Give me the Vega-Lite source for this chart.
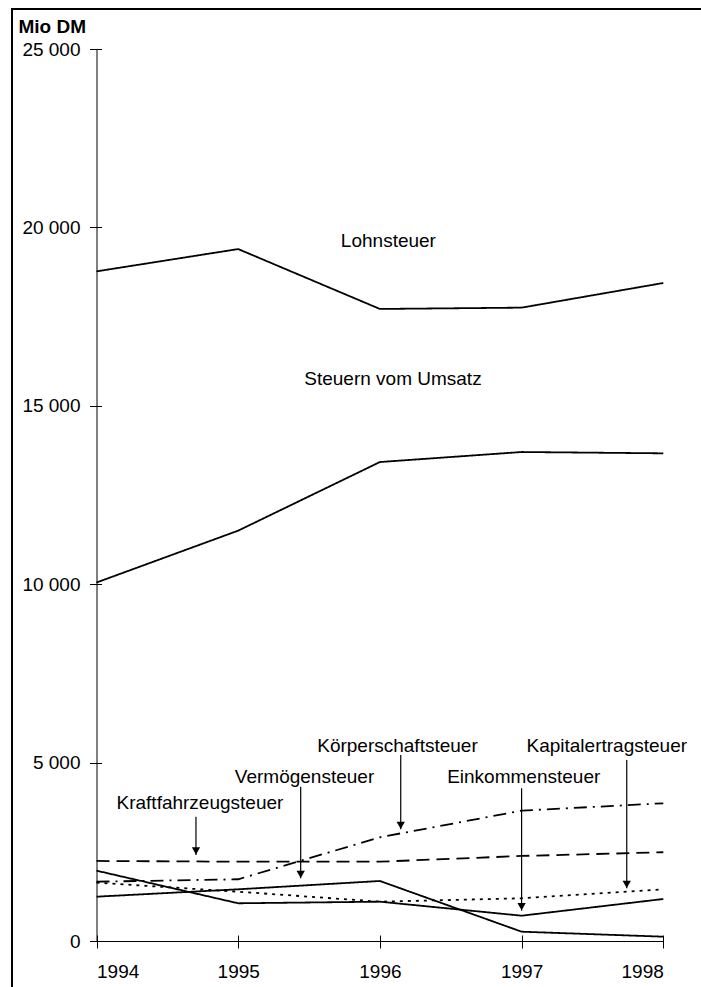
{
  "$schema": "https://vega.github.io/schema/vega-lite/v6.json",
  "width": 700,
  "height": 990,
  "autosize": {"type": "none"},
  "padding": {"left": 12, "top": 9, "right": 0, "bottom": 0},
  "background": "white",
  "config": {
    "view": {"stroke": "black", "strokeWidth": 2},
    "font": "Liberation Sans",
    "axis": {
      "grid": false,
      "domainColor": "black",
      "domainWidth": 1,
      "tickColor": "black",
      "tickWidth": 1,
      "labelColor": "black",
      "labelFont": "Liberation Sans",
      "labelFontSize": 19,
      "titleColor": "black",
      "titleFont": "Liberation Sans"
    }
  },
  "datasets": {
    "series": [
      {"year": 1994, "series": "Lohnsteuer", "value": 18768},
      {"year": 1995, "series": "Lohnsteuer", "value": 19393},
      {"year": 1996, "series": "Lohnsteuer", "value": 17714},
      {"year": 1997, "series": "Lohnsteuer", "value": 17751},
      {"year": 1998, "series": "Lohnsteuer", "value": 18442},
      {"year": 1994, "series": "Steuern vom Umsatz", "value": 10047},
      {"year": 1995, "series": "Steuern vom Umsatz", "value": 11501},
      {"year": 1996, "series": "Steuern vom Umsatz", "value": 13424},
      {"year": 1997, "series": "Steuern vom Umsatz", "value": 13705},
      {"year": 1998, "series": "Steuern vom Umsatz", "value": 13668},
      {"year": 1994, "series": "Kraftfahrzeugsteuer", "value": 2243},
      {"year": 1995, "series": "Kraftfahrzeugsteuer", "value": 2223},
      {"year": 1996, "series": "Kraftfahrzeugsteuer", "value": 2223},
      {"year": 1997, "series": "Kraftfahrzeugsteuer", "value": 2383},
      {"year": 1998, "series": "Kraftfahrzeugsteuer", "value": 2487},
      {"year": 1994, "series": "Körperschaftsteuer", "value": 1662},
      {"year": 1995, "series": "Körperschaftsteuer", "value": 1730},
      {"year": 1996, "series": "Körperschaftsteuer", "value": 2907},
      {"year": 1997, "series": "Körperschaftsteuer", "value": 3653},
      {"year": 1998, "series": "Körperschaftsteuer", "value": 3860},
      {"year": 1994, "series": "Kapitalertragsteuer", "value": 1634},
      {"year": 1995, "series": "Kapitalertragsteuer", "value": 1382},
      {"year": 1996, "series": "Kapitalertragsteuer", "value": 1102},
      {"year": 1997, "series": "Kapitalertragsteuer", "value": 1197},
      {"year": 1998, "series": "Kapitalertragsteuer", "value": 1449},
      {"year": 1994, "series": "Einkommensteuer", "value": 1971},
      {"year": 1995, "series": "Einkommensteuer", "value": 1057},
      {"year": 1996, "series": "Einkommensteuer", "value": 1102},
      {"year": 1997, "series": "Einkommensteuer", "value": 709},
      {"year": 1998, "series": "Einkommensteuer", "value": 1177},
      {"year": 1994, "series": "Vermögensteuer", "value": 1242},
      {"year": 1995, "series": "Vermögensteuer", "value": 1449},
      {"year": 1996, "series": "Vermögensteuer", "value": 1682},
      {"year": 1997, "series": "Vermögensteuer", "value": 261},
      {"year": 1998, "series": "Vermögensteuer", "value": 121}
    ],
    "arrows": [
      {"label": "Kraftfahrzeugsteuer", "x": 1994.702, "top": 3485, "tip": 2411},
      {"label": "Vermögensteuer", "x": 1995.441, "top": 4326, "tip": 1758},
      {"label": "Körperschaftsteuer", "x": 1996.147, "top": 5214, "tip": 3131},
      {"label": "Einkommensteuer", "x": 1997.0, "top": 4281, "tip": 849},
      {"label": "Kapitalertragsteuer", "x": 1997.742, "top": 5074, "tip": 1477}
    ],
    "labels": [
      {"label": "Lohnsteuer", "x": 1996.06, "y": 19456},
      {"label": "Steuern vom Umsatz", "x": 1996.092, "y": 15587},
      {"label": "Kraftfahrzeugsteuer", "x": 1994.73, "y": 3700},
      {"label": "Vermögensteuer", "x": 1995.468, "y": 4438},
      {"label": "Körperschaftsteuer", "x": 1996.124, "y": 5307},
      {"label": "Einkommensteuer", "x": 1997.015, "y": 4438},
      {"label": "Kapitalertragsteuer", "x": 1997.601, "y": 5307}
    ]
  },
  "layer": [
    {
      "data": {"name": "series"},
      "mark": {"type": "line", "color": "black", "strokeWidth": 1.8},
      "encoding": {
        "x": {
          "field": "year", "type": "quantitative",
          "scale": {"domain": [1994, 1998], "range": [84.5, 651.3], "nice": false, "zero": false},
          "axis": {"orient": "bottom", "offset": -58, "values": [1994, 1995, 1996, 1997, 1998], "format": "d", "tickSize": 7, "labelPadding": 29, "labelBaseline": "alphabetic", "title": null}
        },
        "y": {
          "field": "value", "type": "quantitative",
          "scale": {"domain": [0, 25000], "range": [932, 40], "nice": false},
          "axis": {
            "orient": "left", "offset": -84.5,
            "values": [0, 5000, 10000, 15000, 20000, 25000],
            "labelExpr": "replace(format(datum.value, ','), ',', ' ')",
            "tickSize": 7, "labelPadding": 9.5, "labelBaseline": "middle",
            "title": "Mio DM", "titleAngle": 0, "titleAlign": "left", "titleBaseline": "alphabetic",
            "titleX": -78.5, "titleY": 23, "titleFontSize": 19, "titleFontWeight": "bold"
          }
        },
        "detail": {"field": "series", "type": "nominal"},
        "strokeDash": {
          "field": "series", "type": "nominal",
          "scale": {
            "domain": ["Lohnsteuer", "Steuern vom Umsatz", "Kraftfahrzeugsteuer", "Körperschaftsteuer", "Kapitalertragsteuer", "Einkommensteuer", "Vermögensteuer"],
            "range": [[1, 0], [1, 0], [13, 7], [13, 6, 2, 6], [3, 5], [1, 0], [1, 0]]
          },
          "legend": null
        }
      }
    },
    {
      "data": {"name": "arrows"},
      "mark": {"type": "rule", "color": "black", "strokeWidth": 1.2},
      "encoding": {
        "x": {"field": "x", "type": "quantitative",
          "axis": {"orient": "bottom", "offset": -58, "values": [1994, 1995, 1996, 1997, 1998], "labels": false, "domain": false, "tickSize": -6, "title": null}},
        "y": {"field": "top", "type": "quantitative",
          "axis": {"orient": "left", "offset": -84.5, "values": [0, 5000, 10000, 15000, 20000, 25000], "labels": false, "domain": false, "tickSize": -5, "title": null}},
        "y2": {"field": "tip"}
      }
    },
    {
      "data": {"name": "arrows"},
      "mark": {"type": "point", "shape": "triangle-down", "filled": true, "color": "black", "opacity": 1, "size": 70, "yOffset": -4},
      "encoding": {
        "x": {"field": "x", "type": "quantitative", "axis": null},
        "y": {"field": "tip", "type": "quantitative", "axis": null}
      }
    },
    {
      "data": {"name": "labels"},
      "mark": {"type": "text", "align": "center", "baseline": "alphabetic", "fontSize": 19, "font": "Liberation Sans", "color": "black"},
      "encoding": {
        "x": {"field": "x", "type": "quantitative", "axis": null},
        "y": {"field": "y", "type": "quantitative", "axis": null},
        "text": {"field": "label"}
      }
    }
  ],
  "resolve": {"axis": {"x": "independent", "y": "independent"}}
}
